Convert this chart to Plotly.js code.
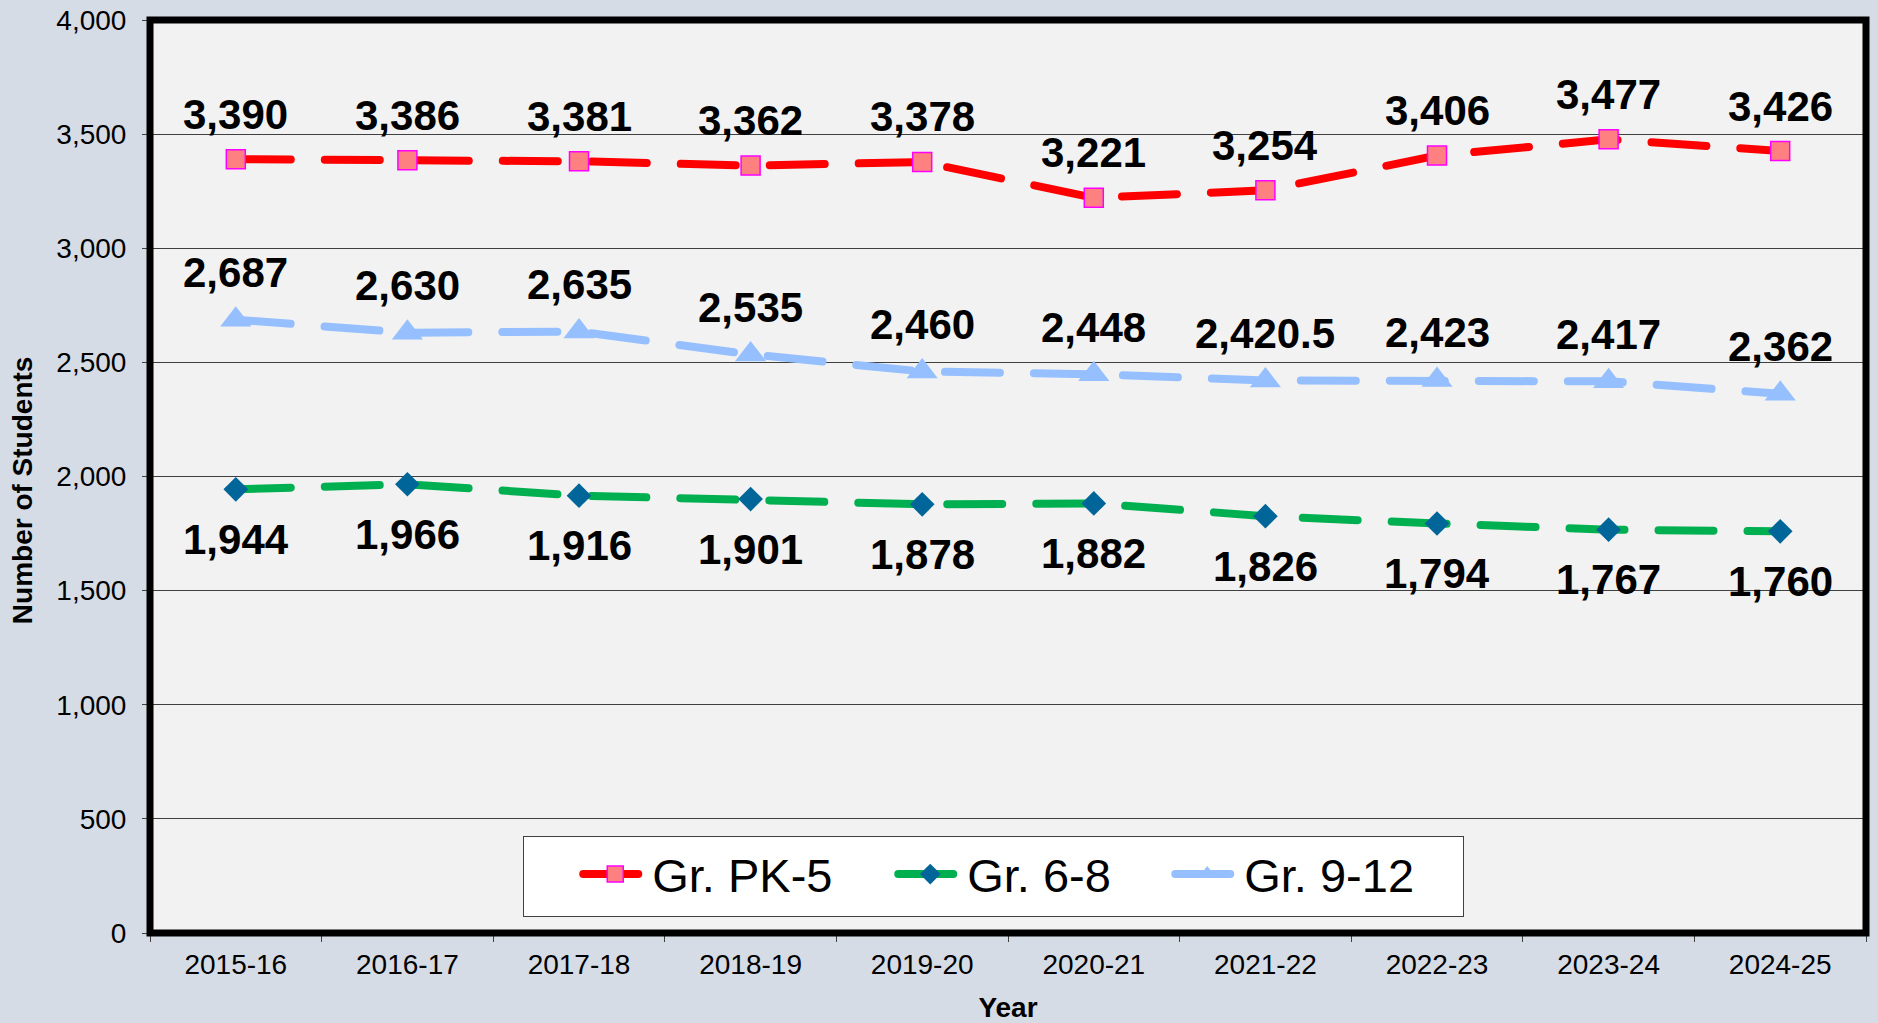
<!DOCTYPE html>
<html>
<head>
<meta charset="utf-8">
<script src="https://cdn.plot.ly/plotly-3.0.1.min.js"></script>
<style>
html, body { margin: 0; padding: 0; background: #D6DCE5; }
#chart { width: 1878px; height: 1023px; }
.scatterlayer .js-line, .legendlines .js-line { stroke-linecap: round; }
.legendlines .js-line { stroke-width: 8px !important; }
</style>
</head>
<body>
<div id="chart"></div>
<script>
const years = ["2015-16","2016-17","2017-18","2018-19","2019-20","2020-21","2021-22","2022-23","2023-24","2024-25"];
const gradePK5 = [3390, 3386, 3381, 3362, 3378, 3221, 3254, 3406, 3477, 3426];
const grade68 = [1944, 1966, 1916, 1901, 1878, 1882, 1826, 1794, 1767, 1760];
const grade912 = [2687, 2630, 2635, 2535, 2460, 2448, 2420.5, 2423, 2417, 2362];
const seriesNames = ["Gr. PK-5", "Gr. 6-8", "Gr. 9-12"];
const yTickVals = [0, 500, 1000, 1500, 2000, 2500, 3000, 3500, 4000];

const FONT = "Liberation Sans, Arial, sans-serif";
const fmt = v => v.toLocaleString('en-US', {maximumFractionDigits: 1});
const DASH = "55px,34px";

const traces = [
  {
    x: years, y: gradePK5, name: seriesNames[0], type: 'scatter', mode: 'lines+markers',
    line: {color: '#FF0000', width: 8, dash: DASH},
    marker: {symbol: 'square', size: 19, color: '#FF8080', line: {color: '#FF00FF', width: 1.5}},
    legendwidth: 236
  },
  {
    x: years, y: grade68, name: seriesNames[1], type: 'scatter', mode: 'lines+markers',
    line: {color: '#00B050', width: 8, dash: DASH},
    marker: {symbol: 'diamond', size: 19, color: '#006699', line: {width: 0}},
    legendwidth: 198
  },
  {
    x: years, y: grade912, name: seriesNames[2], type: 'scatter', mode: 'lines+markers',
    line: {color: '#95BFFF', width: 8, dash: DASH},
    marker: {symbol: 'triangle-up', size: 27, color: '#95BFFF', line: {width: 0}},
    legendwidth: 213
  }
];

const labelFont = {family: FONT, size: 42, color: '#000000', weight: 'bold'};
const annotations = [];
function addLabels(vals, shift) {
  vals.forEach((v, i) => {
    annotations.push({
      x: years[i], y: v, xref: 'x', yref: 'y', text: fmt(v), showarrow: false,
      yshift: shift, xanchor: 'center', yanchor: 'middle', font: labelFont
    });
  });
}
addLabels(gradePK5, 45);
addLabels(grade912, 47);
addLabels(grade68, -50);

annotations.push({
  xref: 'paper', yref: 'paper', x: -0.0746, y: 0.485, text: 'Number of Students',
  textangle: -90, showarrow: false, xanchor: 'center', yanchor: 'middle',
  font: {family: FONT, size: 28, color: '#000000', weight: 'bold'}
});

const layout = {
  width: 1878, height: 1023,
  margin: {l: 150, r: 12, t: 20, b: 90, pad: 0},
  paper_bgcolor: '#D6DCE5',
  plot_bgcolor: '#F2F2F2',
  font: {family: FONT, color: '#000000'},
  showlegend: true,
  legend: {
    orientation: 'h', x: 0.2174, y: 0.0175, xanchor: 'left', yanchor: 'bottom',
    bgcolor: '#FFFFFF', bordercolor: '#404040', borderwidth: 1,
    font: {family: FONT, size: 47, color: '#000000'},
    title: {text: '\u00a0\u00a0\u00a0', side: 'left', font: {family: FONT, size: 53}},
    itemwidth: 64, traceorder: 'normal'
  },
  xaxis: {
    type: 'category', categoryorder: 'array', categoryarray: years,
    range: [-0.5, 9.5], showgrid: false, zeroline: false,
    ticks: 'outside', tickson: 'boundaries', ticklen: 8, tickcolor: '#404040', tickwidth: 1,
    tickfont: {family: FONT, size: 28, color: '#000000'},
    ticklabelstandoff: 12,
    showline: false,
    title: {text: 'Year', font: {family: FONT, size: 28, color: '#000000', weight: 'bold'}, standoff: 18}
  },
  yaxis: {
    range: [0, 4000], tickvals: yTickVals, ticktext: yTickVals.map(v => v.toLocaleString('en-US')),
    showgrid: true, gridcolor: '#404040', gridwidth: 1, zeroline: false,
    ticks: 'outside', ticklen: 7, tickcolor: '#404040', tickwidth: 1,
    tickfont: {family: FONT, size: 28, color: '#000000'},
    ticklabelstandoff: 10,
    showline: false
  },
  shapes: [{
    type: 'rect', xref: 'paper', yref: 'paper', x0: 0, x1: 1, y0: 0, y1: 1,
    line: {color: '#000000', width: 7}, layer: 'above'
  }],
  annotations: annotations
};

Plotly.newPlot('chart', traces, layout, {displayModeBar: false, staticPlot: true});
</script>
</body>
</html>
